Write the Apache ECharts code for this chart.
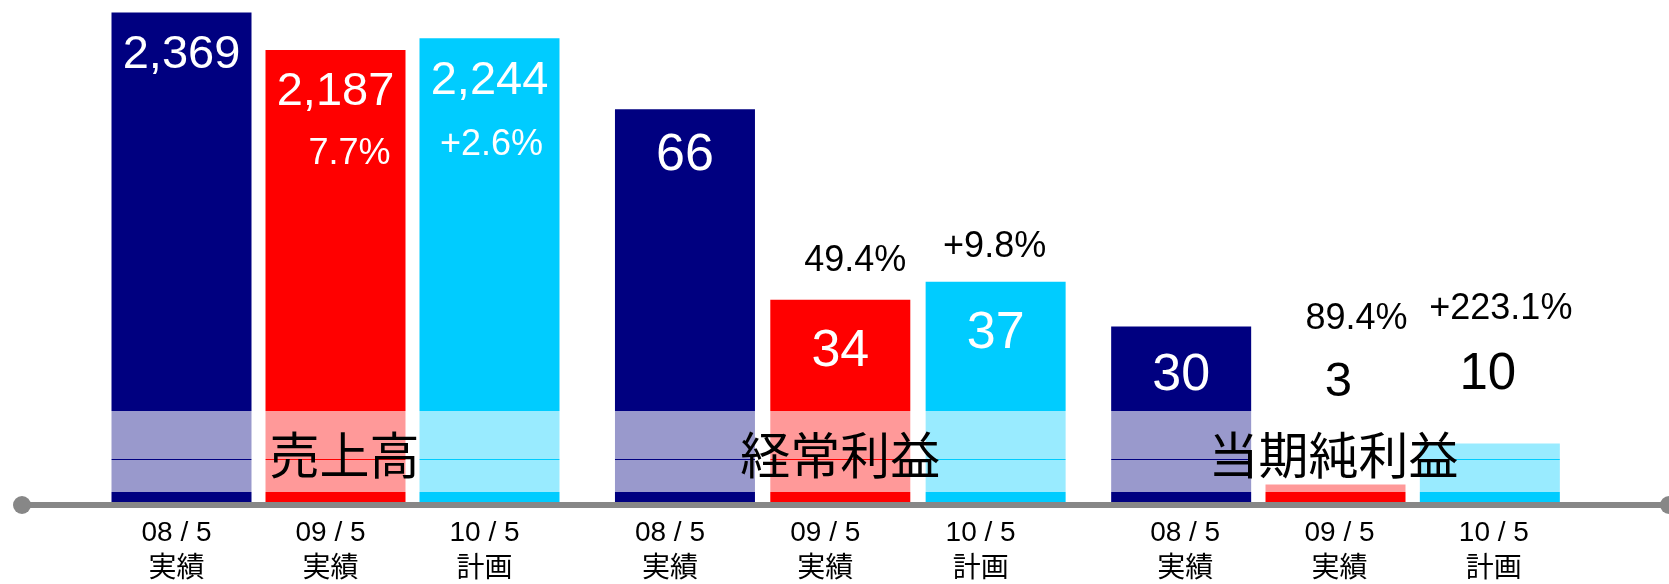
<!DOCTYPE html>
<html>
<head>
<meta charset="utf-8">
<script src="https://cdn.jsdelivr.net/npm/echarts@6/dist/echarts.min.js"></script>
<style>
html, body { margin: 0; padding: 0; background: #fff; }
#main { width: 1669px; height: 584px; }
</style>
</head>
<body>
<div id="main"></div>
<script>
// 期間ラベル・グループ名
const periods = ['08 / 5\n実績', '09 / 5\n実績', '10 / 5\n計画'];
const groupNames = ['売上高', '経常利益', '当期純利益'];

// 値（億円）
const salesValues = [2369, 2187, 2244];
const ordinaryValues = [66, 34, 37];
const netValues = [30, 3, 10];

// 前期比
const salesChange = ['', '7.7%', '+2.6%'];
const ordinaryChange = ['', '49.4%', '+9.8%'];
const netChange = ['', '89.4%', '+223.1%'];

const barColors = ['#000080', '#ff0000', '#00ccff'];
const FONT = "'Liberation Sans', Arial, 'Noto Sans CJK JP', sans-serif";

const groupValues = [salesValues, ordinaryValues, netValues];
const groupChanges = [salesChange, ordinaryChange, netChange];

// レイアウト
const grids = [
  { left: 104.5, width: 462, top: 6, bottom: 82, outerBoundsMode: 'none' },
  { left: 607.3, width: 466, top: 26, bottom: 82, outerBoundsMode: 'none' },
  { left: 1104, width: 463, top: 34, bottom: 82, outerBoundsMode: 'none' },
  { left: 22, right: 0, top: 495, bottom: 79, outerBoundsMode: 'none' }   // 共通の横軸
];
const yMax = [2400, 80, 80];
const labelPadding = [[0, 10, 0, 0], [0, 30, 0, 0], [0, 0, 0, 8]];

// 値ラベルの見た目
function valueLabel(g, i) {
  if (g === 2 && i === 1) return { show: true, position: 'top', color: '#000', fontSize: 49, distance: 77, offset: [3, 0] };
  if (g === 2 && i === 2) return { show: true, position: 'top', color: '#000', fontSize: 51, distance: 43, offset: [-2, 0] };
  if (g === 1) return { show: true, position: 'insideTop', color: '#fff', fontSize: 52, distance: i === 0 ? 20 : 26 };
  return { show: true, position: 'insideTop', color: '#fff', fontSize: g === 0 ? 47 : 52, distance: g === 0 ? 19 : 23 };
}
// 前期比ラベルの見た目
const changeStyle = [
  [null, { position: 'insideTop', color: '#fff', distance: 86, offset: [14, 0] }, { position: 'insideTop', color: '#fff', distance: 89, offset: [2, 0] }],
  [null, { position: 'top', color: '#000', distance: 21, offset: [15, 0] }, { position: 'top', color: '#000', distance: 17, offset: [-1, 0] }],
  [null, { position: 'top', color: '#000', distance: 147, offset: [21, 0] }, { position: 'top', color: '#000', distance: 116, offset: [11, 0] }]
];

const xAxes = [];
const yAxes = [];
const series = [];
for (let g = 0; g < 3; g++) {
  xAxes.push({
    type: 'category', gridIndex: g, data: periods,
    axisLine: { show: false }, axisTick: { show: false },
    axisLabel: { color: '#000', fontSize: 28, lineHeight: 36, margin: 13, fontFamily: FONT, padding: labelPadding[g] }
  });
  yAxes.push({ type: 'value', gridIndex: g, min: 0, max: yMax[g], show: false, splitLine: { show: false } });
  series.push({
    type: 'bar', xAxisIndex: g, yAxisIndex: g, barWidth: 140, barGap: '-100%', z: 2,
    data: groupValues[g].map((v, i) => ({
      value: v,
      itemStyle: { color: barColors[i] },
      label: Object.assign({ fontFamily: FONT, formatter: v.toLocaleString('en-US') }, valueLabel(g, i))
    }))
  });
  series.push({
    type: 'bar', xAxisIndex: g, yAxisIndex: g, barWidth: 140, barGap: '-100%', z: 3, silent: true,
    data: groupValues[g].map((v, i) => ({
      value: v,
      itemStyle: { color: 'transparent' },
      label: changeStyle[g][i]
        ? Object.assign({ show: true, fontSize: 36, fontFamily: FONT, formatter: groupChanges[g][i] }, changeStyle[g][i])
        : { show: false }
    }))
  });
}
xAxes.push({
  type: 'category', gridIndex: 3, data: [''],
  axisLine: { show: true, onZero: false, symbol: ['circle', 'circle'], symbolSize: [18, 18], lineStyle: { color: '#878787', width: 6 } },
  axisTick: { show: false }, axisLabel: { show: false }
});
yAxes.push({ type: 'value', gridIndex: 3, show: false, splitLine: { show: false } });

const chart = echarts.init(document.getElementById('main'));
chart.setOption({
  animation: false,
  grid: grids,
  xAxis: xAxes,
  yAxis: yAxes,
  series: series
});

// 半透明の帯とグループ名
const nameOffsets = [9, 0, -2];
const graphic = [
  { type: 'rect', z: 50, silent: true, shape: { x: 100, y: 411, width: 1470, height: 48 }, style: { fill: 'rgba(255,255,255,0.6)' } },
  { type: 'rect', z: 50, silent: true, shape: { x: 100, y: 460, width: 1470, height: 32 }, style: { fill: 'rgba(255,255,255,0.6)' } }
];
groupNames.forEach((name, g) => {
  const x = chart.convertToPixel({ xAxisIndex: g }, periods[1]);
  graphic.push({
    type: 'text', z: 60, silent: true, x: x + nameOffsets[g], y: 455,
    style: { text: name, fill: '#000', font: "50px 'Noto Sans CJK JP', sans-serif", textAlign: 'center', textVerticalAlign: 'middle' }
  });
});
chart.setOption({ graphic: graphic });
</script>
</body>
</html>
